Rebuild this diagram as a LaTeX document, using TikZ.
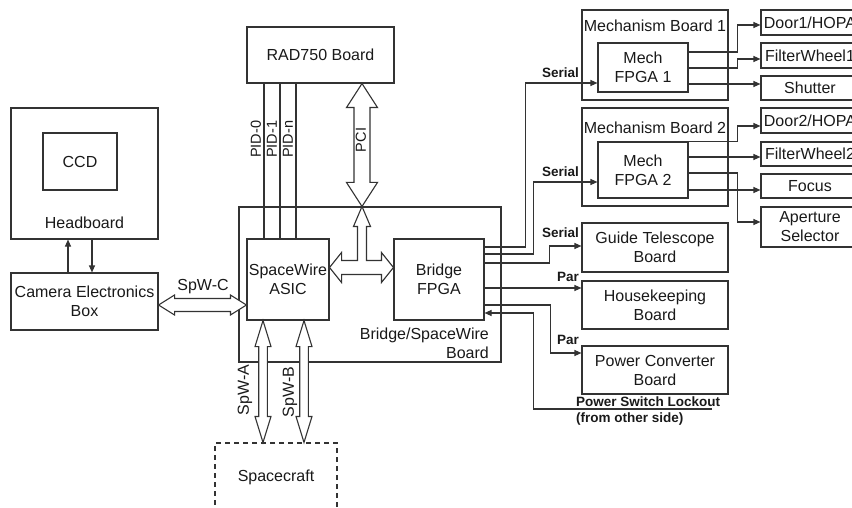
\documentclass[tikz,border=0pt]{standalone}
\usepackage{fontspec}
\setmainfont{Liberation Sans}
\usetikzlibrary{arrows.meta,calc}
\newcommand{\vblk}[5]{\draw[blk] let \p1=#1, \p2=#2 in
  (\x1,\y1) -- (\x1+#3,\y1-#5) -- (\x1+#4,\y1-#5) -- (\x1+#4,\y2+#5) -- (\x1+#3,\y2+#5) -- (\x1,\y2)
  -- (\x1-#3,\y2+#5) -- (\x1-#4,\y2+#5) -- (\x1-#4,\y1-#5) -- (\x1-#3,\y1-#5) -- cycle;}
\newcommand{\hblk}[5]{\draw[blk] let \p1=#1, \p2=#2 in
  (\x1,\y1) -- (\x1+#5,\y1+#3) -- (\x1+#5,\y1+#4) -- (\x2-#5,\y1+#4) -- (\x2-#5,\y1+#3) -- (\x2,\y1)
  -- (\x2-#5,\y1-#3) -- (\x2-#5,\y1-#4) -- (\x1+#5,\y1-#4) -- (\x1+#5,\y1-#3) -- cycle;}

\begin{document}
\begin{tikzpicture}[x=1pt,y=-1pt,>={Triangle[length=7pt,width=6pt]},
  box/.style={draw=black!80,line width=1.1pt,inner sep=0pt,align=center,text=black!90,font=\fontsize{16}{19}\selectfont},
  txt/.style={inner sep=0pt,align=center,text=black!90,font=\fontsize{16}{19}\selectfont},
  vtag/.style={txt,rotate=90},
  tag/.style={inner sep=0pt,text=black!90,font=\bfseries\fontsize{13.5}{16}\selectfont},
  wire/.style={draw=black!80,line width=1.1pt},
  blk/.style={draw=black!80,line width=1.1pt,fill=white,line join=miter}]
\useasboundingbox (0,0) rectangle (852,508);
\node[box,minimum width=147pt,minimum height=56pt] (rad) at (320.5,55) {RAD750 Board};
\node[box,minimum width=147pt,minimum height=131pt] (head) at (84.5,173.5) {};
\node[box,minimum width=74pt,minimum height=57pt] (ccd) at (80,161.5) {CCD};
\node[txt] (headlbl) at (84.5,223) {Headboard};
\node[box,minimum width=147pt,minimum height=57pt] (ceb) at (84.5,301.5) {Camera Electronics\\Box};
\node[box,minimum width=262pt,minimum height=155pt] (bsw) at (370,284.5) {};
\node[txt,anchor=east,align=right] (bswlbl) at (489,343.5) {Bridge/SpaceWire\\Board};
\node[box,minimum width=82pt,minimum height=81pt] (asic) at (288,279.5) {SpaceWire\\ASIC};
\node[box,minimum width=90pt,minimum height=81pt] (bfpga) at (439,279.5) {Bridge\\FPGA};
\node[box,dash pattern=on 5pt off 4pt,minimum width=122pt,minimum height=68pt] (sc) at (276,477) {Spacecraft};

\node[box,minimum width=146pt,minimum height=90pt] (mb1) at (655,55) {};
\node[txt] (mb1lbl) at (655,26) {Mechanism Board 1};
\node[box,minimum width=90pt,minimum height=49pt] (mf1) at (643,67.5) {Mech\\FPGA 1};
\node[box,minimum width=146pt,minimum height=98pt] (mb2) at (655,157) {};
\node[txt] (mb2lbl) at (655,128) {Mechanism Board 2};
\node[box,minimum width=90pt,minimum height=56pt] (mf2) at (643,170) {Mech\\FPGA 2};
\node[box,minimum width=98pt,minimum height=25pt] (door1) at (810,22.5) {Door1/HOPA};
\node[box,minimum width=98pt,minimum height=25pt] (fw1) at (810,55.5) {FilterWheel1};
\node[box,minimum width=98pt,minimum height=24pt] (shut) at (810,88) {Shutter};
\node[box,minimum width=98pt,minimum height=25pt] (door2) at (810,120.5) {Door2/HOPA};
\node[box,minimum width=98pt,minimum height=24pt] (fw2) at (810,154) {FilterWheel2};
\node[box,minimum width=98pt,minimum height=24pt] (focus) at (810,186) {Focus};
\node[box,minimum width=98pt,minimum height=40pt] (apsel) at (810,227) {Aperture\\Selector};
\node[box,minimum width=146pt,minimum height=49pt] (gtb) at (655,247.5) {Guide Telescope\\Board};
\node[box,minimum width=146pt,minimum height=48pt] (hk) at (655,305) {Housekeeping\\Board};
\node[box,minimum width=146pt,minimum height=48pt] (pcb) at (655,370) {Power Converter\\Board};

\draw[wire,->] ([xshift=-16.5]ceb.north) -- ([xshift=-16.5]head.south);
\draw[wire,->] ([xshift=7.5]head.south) -- ([xshift=7.5]ceb.north);
\foreach \a/\b/\t [count=\i] in {-56.5/-24/PID-0,-40.5/-8/PID-1,-24.5/8/PID-n}
  \draw[wire] ([xshift=\a]rad.south) -- ([xshift=\b]asic.north)
    node[vtag,pos=0.36,anchor=south,inner sep=2.5pt,font=\fontsize{14.5}{17}\selectfont] (pid\i) {\t};

\coordinate (pcij) at ([xshift=-8]bsw.north);
\vblk{(pcij |- rad.south)}{(pcij)}{15.5pt}{8pt}{24pt}
\node[vtag,font=\fontsize{14.5}{17}\selectfont] (pcilbl) at (361,140) {PCI};
\draw[blk] let \p1=([yshift=12]asic.east), \p2=([yshift=12]bfpga.west), \p3=(pcij) in
  (\x1,\y1) -- (\x1+12pt,\y1+15pt) -- (\x1+12pt,\y1+7pt) -- (\x3-4.5pt,\y1+7pt) -- (\x3-4.5pt,\y3-20pt)
  -- (\x3-8.5pt,\y3-20pt) -- (\x3,\y3) -- (\x3+8.5pt,\y3-20pt) -- (\x3+4.5pt,\y3-20pt) -- (\x3+4.5pt,\y1+7pt)
  -- (\x2-12pt,\y1+7pt) -- (\x2-12pt,\y1+15pt) -- (\x2,\y1) -- (\x2-12pt,\y1-15pt) -- (\x2-12pt,\y1-7pt)
  -- (\x1+12pt,\y1-7pt) -- (\x1+12pt,\y1-15pt) -- cycle;
\hblk{([yshift=-3.5]ceb.east)}{(asic.west)}{10pt}{6.5pt}{16pt}
\node[txt] (spwc) at (203,287) {SpW-C};
\vblk{([xshift=-25]asic.south)}{(sc.north)}{8pt}{4.3pt}{26pt}
\vblk{([xshift=16]asic.south)}{(sc.north)}{8pt}{4.3pt}{26pt}
\node[vtag] (spwa) at (245,390) {SpW-A};
\node[vtag] (spwb) at (290,392) {SpW-B};

\draw[wire,->] ([yshift=32.5]bfpga.east) -- ++(41,0) |- ([yshift=-15.5]mf1.west);
\draw[wire,->] ([yshift=25.5]bfpga.east) -- ++(49,0) |- ([yshift=-12]mf2.west);
\draw[wire,->] ([yshift=16.5]bfpga.east) -- ++(65,0) |- ([yshift=1.5]gtb.west);
\draw[wire,->] ([yshift=-8.5]bfpga.east) -- ([yshift=17]hk.west);
\draw[wire,->] ([yshift=-25.5]bfpga.east) -- ++(66,0) |- ([yshift=17]pcb.west);
\coordinate (psl) at (712,409);
\draw[wire,->] (psl) -| ([xshift=49,yshift=-33.5]bfpga.east) -- ([yshift=-33.5]bfpga.east);
\node[tag,anchor=west,align=left] (psllbl) at (576,411) {Power Switch Lockout\\(from other side)};
\node[tag,anchor=east] (ser1) at (579,73) {Serial};
\node[tag,anchor=east] (ser2) at (579,172) {Serial};
\node[tag,anchor=east] (ser3) at (579,233) {Serial};
\node[tag,anchor=east] (par1) at (579,277) {Par};
\node[tag,anchor=east] (par2) at (579,340) {Par};

\draw[wire,->] ([yshift=15.5]mf1.east) -- ++(49,0) |- ([yshift=-2.5]door1.west);
\draw[wire,->] ([yshift=-0.5]mf1.east) -- ++(49,0) |- ([yshift=-3.5]fw1.west);
\draw[wire,->] ([yshift=-16.5]mf1.east) -- ([yshift=4]shut.west);
\draw[wire,->] (mf2.north east) -- ++(49,0) |- ([yshift=-5.5]door2.west);
\draw[wire,->] ([yshift=13]mf2.east) -- ([yshift=-3]fw2.west);
\draw[wire,->] ([yshift=-3]mf2.east) -- ++(49,0) |- ([yshift=5]apsel.west);
\draw[wire,->] ([yshift=-20]mf2.east) -- ([yshift=-4]focus.west);
\end{tikzpicture}
\end{document}
